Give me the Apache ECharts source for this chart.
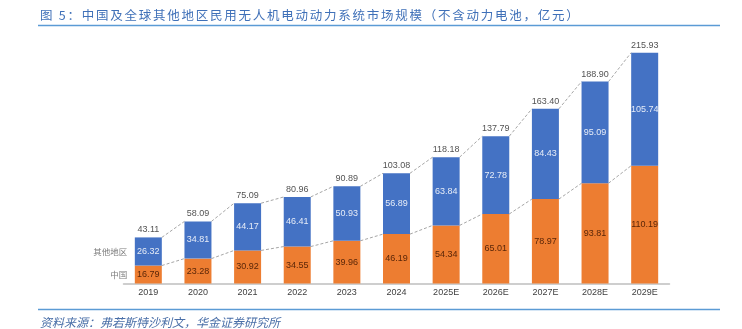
<!DOCTYPE html>
<html>
<head>
<meta charset="utf-8">
<script src="https://cdn.jsdelivr.net/npm/echarts@6/dist/echarts.min.js"></script>
<style>
  html, body { margin: 0; padding: 0; background: #fff; }
  #chart { width: 742px; height: 329px; }
</style>
</head>
<body>
<div id="chart"></div>
<script>
// 市场规模（亿元）
const years = ['2019', '2020', '2021', '2022', '2023', '2024', '2025E', '2026E', '2027E', '2028E', '2029E'];
const china = [16.79, 23.28, 30.92, 34.55, 39.96, 46.19, 54.34, 65.01, 78.97, 93.81, 110.19];
const others = [26.32, 34.81, 44.17, 46.41, 50.93, 56.89, 63.84, 72.78, 84.43, 95.09, 105.74];
const totals = [43.11, 58.09, 75.09, 80.96, 90.89, 103.08, 118.18, 137.79, 163.40, 188.90, 215.93];
const titleText = '图 5：中国及全球其他地区民用无人机电动动力系统市场规模（不含动力电池，亿元）';
const sourceText = '资料来源：弗若斯特沙利文，华金证券研究所';

const BAR_W = 27;
const numFont = '"Liberation Sans", Arial, sans-serif';
const cjkFont = '"Noto Sans CJK SC", sans-serif';

// title laid out character by character with extra tracking
function spacedText(text, x, y, font, fill, tracking) {
  const ctx = document.createElement('canvas').getContext('2d');
  ctx.font = font;
  const children = [];
  let cx = x;
  for (const ch of text) {
    children.push({ type: 'text', x: cx, y: y, style: { text: ch, font: font, fill: fill, textVerticalAlign: 'middle' }, silent: true });
    cx += ctx.measureText(ch).width + tracking;
  }
  return { type: 'group', children: children };
}

const chart = echarts.init(document.getElementById('chart'), null, { renderer: 'canvas' });

// dashed connectors between adjacent bar tops (total and China segment)
function connector(values) {
  return function (params, api) {
    const i = api.value(0);
    if (i >= values.length - 1) return null;
    const a = api.coord([i, values[i]]);
    const b = api.coord([i + 1, values[i + 1]]);
    return {
      type: 'line',
      shape: { x1: a[0] + BAR_W / 2, y1: a[1], x2: b[0] - BAR_W / 2, y2: b[1] },
      style: { stroke: '#a6a6a6', lineWidth: 1, lineDash: [3, 2] },
      silent: true
    };
  };
}

chart.setOption({
  animation: false,
  backgroundColor: '#fff',
  graphic: [
    spacedText(titleText, 40, 15, '12.5px "Noto Sans CJK SC", sans-serif', '#3f70b8', 1.75),
    { type: 'line', shape: { x1: 38, y1: 25.5, x2: 720, y2: 25.5 }, style: { stroke: '#5b9bd5', lineWidth: 1.5 } },
    { type: 'line', shape: { x1: 38, y1: 309.5, x2: 720, y2: 309.5 }, style: { stroke: '#5b9bd5', lineWidth: 1.5 } },
    {
      type: 'text', left: 40, top: 316,
      style: { text: sourceText, font: 'italic 12px "Noto Sans CJK SC", sans-serif', fill: '#4a6fa8' }
    }
  ],
  grid: { left: 123.5, right: 72.5, top: 26.9, bottom: 45.5 },
  xAxis: {
    type: 'category',
    data: years,
    axisLine: { lineStyle: { color: '#bfbfbf', width: 1.5 } },
    axisTick: { show: false },
    axisLabel: { color: '#404040', fontFamily: numFont, fontSize: 9, margin: 5 }
  },
  yAxis: { type: 'value', min: 0, max: 240, show: false, splitLine: { show: false } },
  series: [
    {
      name: '中国', type: 'bar', stack: 'total', data: china, barWidth: BAR_W,
      itemStyle: { color: '#ed7d31' },
      label: { show: true, position: 'inside', color: '#5a2608', fontFamily: numFont, fontSize: 9,
        formatter: p => p.value.toFixed(2) }
    },
    {
      name: '其他地区', type: 'bar', stack: 'total', data: others, barWidth: BAR_W,
      itemStyle: { color: '#4472c4' },
      label: { show: true, position: 'inside', color: '#e6ecf7', fontFamily: numFont, fontSize: 9,
        formatter: p => p.value.toFixed(2) }
    },
    {
      // totals written above each stacked bar
      name: '合计', type: 'scatter', data: totals.map((v, i) => [i, v]),
      symbolSize: 0, silent: true,
      label: { show: true, position: 'top', distance: 3, color: '#262626', fontFamily: numFont, fontSize: 9,
        formatter: p => p.value[1].toFixed(2) }
    },
    {
      // segment names beside the first bar
      name: '图例', type: 'scatter', symbolSize: 0, silent: true,
      data: [[0, china[0] / 2, '中国'], [0, china[0] + others[0] / 2, '其他地区']],
      label: { show: true, position: 'left', distance: 21, color: '#595959', fontFamily: cjkFont, fontSize: 8.5,
        formatter: p => p.value[2] }
    },
    {
      type: 'custom', renderItem: connector(totals), data: years.map((_, i) => [i]), z: 1, silent: true
    },
    {
      type: 'custom', renderItem: connector(china), data: years.map((_, i) => [i]), z: 1, silent: true
    }
  ]
});
</script>
</body>
</html>
